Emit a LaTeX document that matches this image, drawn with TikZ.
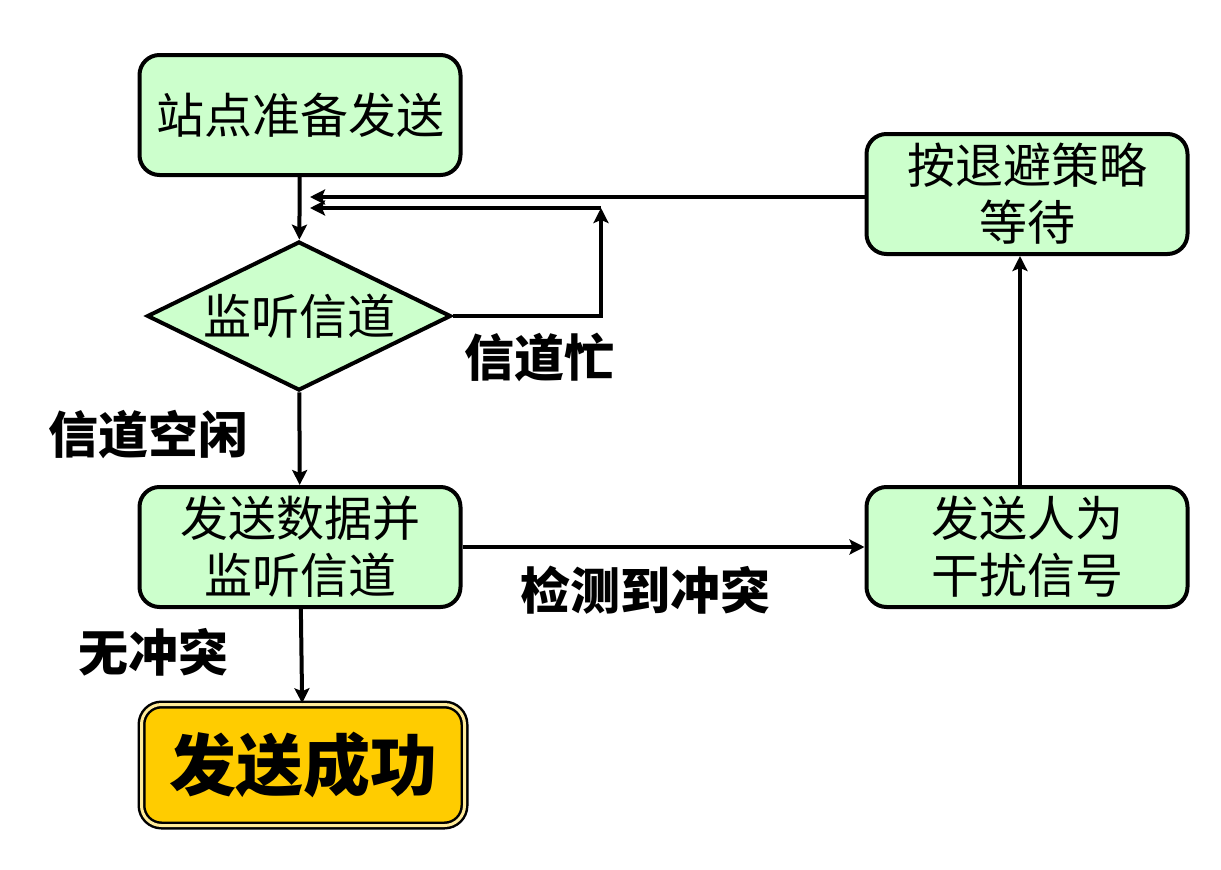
\documentclass[tikz,border=0pt]{standalone}
\usepackage{fontspec}
\newfontfamily\cjk{Noto Sans CJK SC}
\usetikzlibrary{arrows.meta,shapes.geometric}
\definecolor{boxgreen}{HTML}{CCFFCC}
\definecolor{okgold}{HTML}{FFCC00}
\begin{document}
\begin{tikzpicture}[x=1pt,y=-1pt,
  stepbox/.style={draw, line width=4pt, fill=boxgreen, rounded corners=20pt,
    minimum width=321pt, minimum height=120pt, inner sep=0pt, align=center,
    font=\cjk\fontsize{48}{57}\selectfont},
  decide/.style={draw, line width=4pt, fill=boxgreen, diamond, shape aspect=2,
    minimum width=304pt, minimum height=149pt, inner sep=0pt,
    font=\cjk\fontsize{48}{57}\selectfont},
  donebox/.style={draw=black, double=okgold!40!white, double distance=3pt, line width=2.5pt,
    fill=okgold, rounded corners=20pt, minimum width=323pt, minimum height=121pt,
    inner sep=0pt, font=\cjk\bfseries\fontsize{67}{74}\selectfont},
  lbl/.style={font=\cjk\bfseries\fontsize{50}{56}\selectfont, inner sep=0pt},
  arr/.style={line width=4pt, -{Stealth[length=15pt,width=15pt,inset=3pt]}}
]
\useasboundingbox (0,0) rectangle (1221,870);

\node[stepbox] (start) at (300,115) {站点准备发送};
\node[decide] (listen) at (299,316) {监听信道};
\node[stepbox] (send) at (300,547) {发送数据并\\监听信道};
\node[donebox] (ok) at (303,765) {发送成功};
\node[stepbox] (wait) at (1027,194) {按退避策略\\等待};
\node[stepbox] (jam) at (1027,547) {发送人为\\干扰信号};

\coordinate (busyT) at (601,208);
\coordinate (ret2) at (310,208);
\coordinate (ret1) at (310,197);
\coordinate (upx) at (1020,400);

\draw[arr] (start) -- (listen);
\draw[arr] (listen.east) -| (busyT);
\draw[arr] (busyT) -- (ret2);
\draw[arr] (wait.west |- ret1) -- (ret1);
\draw[arr] (listen) -- (send);
\draw[arr] (send) -- (ok);
\draw[arr] (send) -- (jam);
\draw[arr] (jam.north -| upx) -- (wait.south -| upx);

\node[lbl] (lbusy) at (539,357) {信道忙};
\node[lbl] (lidle) at (148,435) {信道空闲};
\node[lbl] (lcoll) at (645,590) {检测到冲突};
\node[lbl] (lnone) at (153,652) {无冲突};
\end{tikzpicture}
\end{document}
